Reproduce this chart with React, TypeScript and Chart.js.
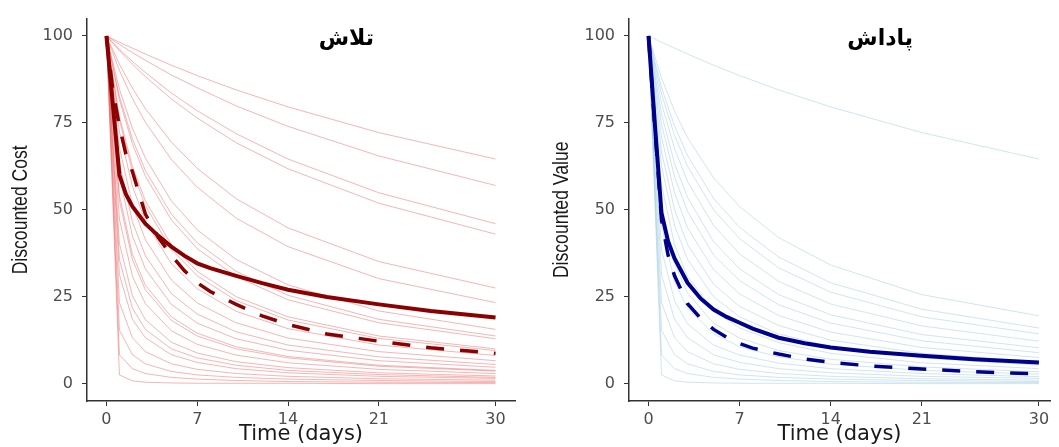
import React, { useEffect, useRef } from "react";
import { Chart, registerables } from "chart.js";

Chart.register(...registerables);

// ---------- data ----------
const days = [0, 1, 2, 3, 5, 7, 10, 14, 21, 30];
const summaryDays = [0, 0.5, 1, 1.5, 2, 3, 4, 5, 6, 7, 8, 10, 12, 14, 17, 21, 25, 30];
const xTicks = [0, 7, 14, 21, 30];
const yTicks = [0, 25, 50, 75, 100];

// Effort (cost) panel
const costMean = [100, 80, 60, 54.5, 51, 46, 42.5, 39.4, 36.8, 34.6, 33.2, 31, 28.9, 27, 24.9, 22.8, 20.9, 19];
const costTypical = [100, 84, 74, 66, 61, 48.8, 42, 37, 32.5, 29, 26.5, 22.8, 19.5, 17, 14.3, 12.2, 10.3, 8.7];
const costCurves = [
  [100, 98.2, 96.5, 94.8, 91.6, 88.6, 84.5, 79.6, 72.2, 64.6],
  [100, 97.6, 95.2, 93.0, 88.8, 85.1, 79.9, 74.0, 65.5, 57.0],
  [100, 96.2, 92.7, 89.5, 83.6, 78.5, 71.9, 64.6, 54.9, 46.0],
  [100, 95.8, 91.9, 88.3, 81.9, 76.4, 69.3, 61.8, 51.9, 43.0],
  [100, 91.9, 85.0, 79.1, 69.5, 61.9, 53.2, 44.8, 35.1, 27.5],
  [100, 90.1, 82.0, 75.2, 64.5, 56.5, 47.6, 39.4, 30.2, 23.3],
  [100, 84.7, 73.5, 64.9, 52.6, 44.2, 35.7, 28.4, 20.9, 15.6],
  [100, 82.6, 70.4, 61.3, 48.8, 40.5, 32.3, 25.4, 18.5, 13.7],
  [100, 81.6, 69.0, 59.7, 47.1, 38.8, 30.8, 24.1, 17.5, 12.9],
  [100, 76.9, 62.5, 52.6, 40.0, 32.3, 25.0, 19.2, 13.7, 10.0],
  [100, 75.9, 61.1, 51.2, 38.6, 31.0, 23.9, 18.3, 13.0, 9.5],
  [100, 72.5, 56.8, 46.7, 34.5, 27.3, 20.8, 15.8, 11.1, 8.1],
  [100, 67.9, 51.4, 41.4, 29.8, 23.2, 17.5, 13.1, 9.2, 6.6],
  [100, 63.6, 46.6, 36.8, 25.9, 20.0, 14.9, 11.1, 7.7, 5.5],
  [100, 59.7, 42.5, 33.0, 22.8, 17.4, 12.9, 9.6, 6.6, 4.7],
  [100, 54.2, 37.2, 28.3, 19.2, 14.5, 10.6, 7.8, 5.3, 3.8],
  [100, 52.6, 35.7, 27.0, 18.2, 13.7, 10.0, 7.4, 5.0, 3.6],
  [100, 47.3, 30.9, 23.0, 15.2, 11.3, 8.2, 6.0, 4.1, 2.9],
  [100, 40.3, 25.3, 18.4, 11.9, 8.8, 6.3, 4.6, 3.1, 2.2],
  [100, 35.7, 21.7, 15.6, 10.0, 7.4, 5.3, 3.8, 2.6, 1.8],
  [100, 31.3, 18.5, 13.2, 8.3, 6.1, 4.3, 3.1, 2.1, 1.5],
  [100, 23.3, 13.2, 9.2, 5.7, 4.1, 2.9, 2.1, 1.4, 1.0],
  [100, 15.4, 8.3, 5.7, 3.5, 2.5, 1.8, 1.3, 0.9, 0.6],
  [100, 8.3, 4.3, 2.9, 1.8, 1.3, 0.9, 0.6, 0.4, 0.3],
  [100, 2.5, 0.8, 0.4, 0.2, 0.1, 0.1, 0.1, 0.0, 0.0],
];

// Reward (value) panel
const valueMean = [100, 74, 49, 41, 36, 29, 24.5, 21.3, 19.2, 17.5, 15.8, 13.2, 11.6, 10.4, 9.2, 8, 7, 6.1];
const valueTypical = [100, 73, 47, 37, 31, 23, 18.8, 15.6, 13.3, 11.5, 10.2, 8.5, 7.1, 6.1, 5.1, 4.2, 3.4, 2.8];
const valueCurves = [
  [100, 98.2, 96.5, 94.8, 91.6, 88.6, 84.5, 79.6, 72.2, 64.6],
  [100, 87.9, 78.4, 70.7, 59.2, 50.9, 42.0, 34.1, 25.6, 19.5],
  [100, 85.1, 74.1, 65.6, 53.3, 44.9, 36.4, 29.0, 21.4, 16.0],
  [100, 83.3, 71.4, 62.5, 50.0, 41.7, 33.3, 26.3, 19.2, 14.3],
  [100, 80.6, 67.6, 58.1, 45.5, 37.3, 29.4, 22.9, 16.6, 12.2],
  [100, 77.5, 63.3, 53.5, 40.8, 33.0, 25.6, 19.8, 14.1, 10.3],
  [100, 74.6, 59.5, 49.5, 37.0, 29.6, 22.7, 17.4, 12.3, 8.9],
  [100, 70.9, 54.9, 44.8, 32.8, 25.8, 19.6, 14.8, 10.4, 7.5],
  [100, 66.7, 50.0, 40.0, 28.6, 22.2, 16.7, 12.5, 8.7, 6.3],
  [100, 62.5, 45.5, 35.7, 25.0, 19.2, 14.3, 10.6, 7.4, 5.3],
  [100, 57.1, 40.0, 30.8, 21.1, 16.0, 11.8, 8.7, 6.0, 4.3],
  [100, 51.3, 34.5, 26.0, 17.4, 13.1, 9.5, 7.0, 4.8, 3.4],
  [100, 45.5, 29.4, 21.7, 14.3, 10.6, 7.7, 5.6, 3.8, 2.7],
  [100, 38.5, 23.8, 17.2, 11.1, 8.2, 5.9, 4.3, 2.9, 2.0],
  [100, 31.3, 18.5, 13.2, 8.3, 6.1, 4.3, 3.1, 2.1, 1.5],
  [100, 23.3, 13.2, 9.2, 5.7, 4.1, 2.9, 2.1, 1.4, 1.0],
  [100, 15.4, 8.3, 5.7, 3.5, 2.5, 1.8, 1.3, 0.9, 0.6],
  [100, 8.3, 4.3, 2.9, 1.8, 1.3, 0.9, 0.6, 0.4, 0.3],
  [100, 2.5, 0.8, 0.4, 0.2, 0.1, 0.1, 0.1, 0.0, 0.0],
];

// ---------- drawing ----------
const toPoints = (xs: number[], vals: number[]) => vals.map((v, i) => ({ x: xs[i], y: v }));

const textPlugin = {
  id: "panelText",
  afterDraw(chart: any, _args: any, opts: any) {
    const ctx = chart.ctx as CanvasRenderingContext2D;
    const area = chart.chartArea;
    ctx.save();
    ctx.translate(opts.yTitleX, (area.top + area.bottom) / 2);
    ctx.rotate(-Math.PI / 2);
    ctx.scale(0.8, 1);
    ctx.font = '22px "Liberation Sans", Arial, sans-serif';
    ctx.fillStyle = "#1a1a1a";
    ctx.textAlign = "center";
    ctx.textBaseline = "middle";
    ctx.fillText(opts.yTitle, 0, 0);
    ctx.restore();

    ctx.save();
    ctx.font = 'bold 22px "DejaVu Sans", sans-serif';
    ctx.fillStyle = "#000";
    (ctx as any).direction = "rtl";
    ctx.textAlign = "center";
    ctx.textBaseline = "middle";
    ctx.fillText(
      opts.title,
      chart.scales.x.getPixelForValue(opts.titleX),
      chart.scales.y.getPixelForValue(opts.titleY)
    );
    ctx.restore();
  },
};

type PanelProps = {
  left: number;
  width: number;
  padRight: number;
  xMax: number;
  curves: number[][];
  mean: number[];
  typical: number[];
  thin: string;
  thick: string;
  yTitle: string;
  yTitleX: number;
  title: string;
  titleX: number;
};

function Panel(p: PanelProps) {
  const ref = useRef<HTMLCanvasElement | null>(null);
  useEffect(() => {
    if (!ref.current) return;
    const axisColor = "#333333";
    const datasets: any[] = [
      {
        data: toPoints(summaryDays, p.mean),
        borderColor: p.thick,
        borderWidth: 4,
        pointRadius: 0,
        tension: 0,
      },
      {
        data: toPoints(summaryDays, p.typical),
        borderColor: p.thick,
        borderWidth: 3.5,
        borderDash: [18, 16],
        pointRadius: 0,
        tension: 0,
      },
      ...p.curves.map((c) => ({
        data: toPoints(days, c),
        borderColor: p.thin,
        borderWidth: 1,
        pointRadius: 0,
        tension: 0,
      })),
    ];
    const chart = new Chart(ref.current, {
      type: "line",
      data: { datasets },
      plugins: [textPlugin as any],
      options: {
        animation: false,
        responsive: false,
        devicePixelRatio: 1,
        layout: { padding: { left: 0, right: p.padRight, top: 14, bottom: 0 } },
        plugins: {
          legend: { display: false },
          tooltip: { enabled: false },
          panelText: {
            yTitle: p.yTitle,
            yTitleX: p.yTitleX,
            title: p.title,
            titleX: p.titleX,
            titleY: 99,
          },
        } as any,
        scales: {
          x: {
            type: "linear",
            min: -1.5,
            max: p.xMax,
            afterBuildTicks: (s: any) => {
              s.ticks = xTicks.map((v) => ({ value: v }));
            },
            afterFit: (s: any) => {
              s.height = 46;
            },
            grid: {
              drawOnChartArea: false,
              drawTicks: true,
              tickLength: 5,
              color: axisColor,
              lineWidth: 1,
            },
            border: { display: true, color: axisColor, width: 1.5 },
            ticks: {
              padding: 4,
              maxRotation: 0,
              color: "#4d4d4d",
              font: { family: "DejaVu Sans", size: 16 },
            },
            title: {
              display: true,
              text: "Time (days)",
              color: "#1a1a1a",
              padding: 0,
              font: { family: "DejaVu Sans", size: 21 },
            },
          },
          y: {
            type: "linear",
            min: -5,
            max: 105,
            afterBuildTicks: (s: any) => {
              s.ticks = yTicks.map((v) => ({ value: v }));
            },
            afterFit: (s: any) => {
              s.width = 87;
            },
            grid: {
              drawOnChartArea: false,
              drawTicks: true,
              tickLength: 5,
              color: axisColor,
              lineWidth: 1,
            },
            border: { display: true, color: axisColor, width: 1.5 },
            ticks: {
              padding: 9,
              color: "#4d4d4d",
              font: { family: "DejaVu Sans", size: 16 },
            },
          },
        },
      },
    });
    return () => chart.destroy();
  }, []);
  return (
    <canvas
      ref={ref}
      width={p.width}
      height={447}
      style={{ position: "absolute", left: p.left, top: 0, width: p.width, height: 447 }}
    />
  );
}

export default function App() {
  return (
    <div
      style={{
        position: "fixed",
        left: 0,
        top: 0,
        width: 1059,
        height: 447,
        background: "#ffffff",
        overflow: "hidden",
      }}
    >
      <Panel
        left={0}
        width={542}
        padRight={27}
        xMax={31.5}
        curves={costCurves}
        mean={costMean}
        typical={costTypical}
        thin="rgba(230,70,70,0.4)"
        thick="#8b0000"
        yTitle="Discounted Cost"
        yTitleX={21}
        title="تلاش"
        titleX={18.5}
      />
      <Panel
        left={542}
        width={517}
        padRight={9}
        xMax={30.85}
        curves={valueCurves}
        mean={valueMean}
        typical={valueTypical}
        thin="rgba(120,180,210,0.35)"
        thick="#00008b"
        yTitle="Discounted Value"
        yTitleX={20}
        title="پاداش"
        titleX={17.8}
      />
    </div>
  );
}
